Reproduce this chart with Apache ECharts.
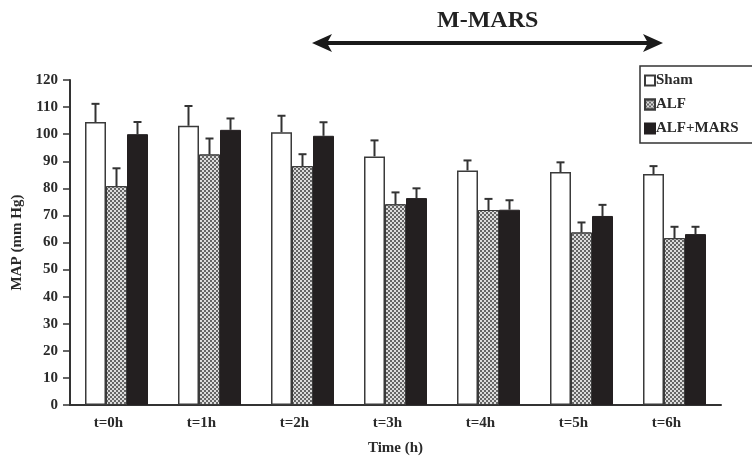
<!DOCTYPE html>
<html>
<head>
<meta charset="utf-8">
<script src="https://cdn.jsdelivr.net/npm/echarts@6/dist/echarts.min.js"></script>
<style>
  html, body { margin: 0; padding: 0; background: #fff; }
  #chart { width: 752px; height: 456px; }
</style>
</head>
<body>
<div id="chart"></div>
<script>
// values (MAP, mm Hg; mean and upward SD)
const categories = ['t=0h', 't=1h', 't=2h', 't=3h', 't=4h', 't=5h', 't=6h'];
const shamMean = [104.5, 103.1, 100.7, 91.8, 86.6, 86.0, 85.3];
const shamErr  = [6.7, 7.3, 6.1, 5.9, 3.7, 3.6, 2.9];
const alfMean  = [80.8, 92.5, 88.2, 74.1, 72.0, 63.7, 61.6];
const alfErr   = [6.6, 5.9, 4.4, 4.4, 4.1, 3.7, 4.2];
const marsMean = [100.0, 101.6, 99.4, 76.4, 72.1, 69.8, 63.1];
const marsErr  = [4.5, 4.2, 5.0, 3.6, 3.5, 4.1, 2.7];
const yTicks = { min: 0, max: 120, interval: 10 };

const FONT = '"Liberation Serif", "DejaVu Serif", serif';
const INK = '#2a2a2a';
const BAR_W = 21;

const chart = echarts.init(document.getElementById('chart'));

function errSeries(name, means, errs, offset) {
  return {
    type: 'custom',
    name: name + ' SD',
    z: 1,
    silent: true,
    data: means.map((m, i) => [i, m, errs[i]]),
    renderItem: (params, api) => {
      const i = api.value(0);
      const m = api.value(1);
      const e = api.value(2);
      const x = api.coord([i, m])[0] + offset;
      const yb = api.coord([i, m])[1];
      const yt = api.coord([i, m + e])[1];
      const st = { stroke: '#333', lineWidth: 2 };
      return {
        type: 'group',
        children: [
          { type: 'line', shape: { x1: x, y1: yb, x2: x, y2: yt }, style: st },
          { type: 'line', shape: { x1: x - 4, y1: yt, x2: x + 4, y2: yt }, style: st }
        ]
      };
    }
  };
}

const barBase = {
  type: 'bar',
  barWidth: BAR_W,
  barGap: '0%',
  z: 2
};

const option = {
  animation: false,
  backgroundColor: '#fff',
  grid: { left: 70, right: 31, top: 80, bottom: 51, outerBoundsMode: 'none' },
  legend: {
    data: ['Sham', 'ALF', 'ALF+MARS'],
    orient: 'vertical',
    left: 640,
    top: 66,
    padding: [7, 40, 7, 4],
    itemGap: 9,
    itemWidth: 10,
    itemHeight: 10,
    icon: 'rect',
    borderColor: '#333',
    borderWidth: 1.5,
    textStyle: { fontFamily: FONT, fontWeight: 'bold', fontSize: 15, color: INK, padding: [0, 0, 0, -4] }
  },
  xAxis: {
    type: 'category',
    data: categories,
    name: 'Time (h)',
    nameLocation: 'middle',
    nameGap: 36,
    nameTextStyle: { fontFamily: FONT, fontWeight: 'bold', fontSize: 15, color: INK },
    axisLine: { lineStyle: { color: '#333', width: 2 } },
    axisTick: { length: 5, lineStyle: { color: '#333', width: 1.5 } },
    axisLabel: { fontFamily: FONT, fontWeight: 'bold', fontSize: 15, color: INK, margin: 11, padding: [0, 16, 0, 0] }
  },
  yAxis: {
    type: 'value',
    min: yTicks.min,
    max: yTicks.max,
    interval: yTicks.interval,
    name: 'MAP (mm Hg)',
    nameLocation: 'middle',
    nameGap: 45,
    nameTextStyle: { fontFamily: FONT, fontWeight: 'bold', fontSize: 15, color: INK },
    splitLine: { show: false },
    axisLine: { show: true, lineStyle: { color: '#333', width: 2 } },
    axisTick: { show: true, length: 7, lineStyle: { color: '#333', width: 1.5 } },
    axisLabel: { fontFamily: FONT, fontWeight: 'bold', fontSize: 15, color: INK, margin: 12 }
  },
  graphic: [
    {
      type: 'text',
      left: 437,
      top: 9,
      style: { text: 'M-MARS', font: 'bold 24px ' + FONT, fill: '#222' }
    },
    {
      type: 'line',
      shape: { x1: 322, y1: 43, x2: 652, y2: 43 },
      style: { stroke: '#1a1a1a', lineWidth: 4 }
    },
    {
      type: 'polygon',
      shape: { points: [[312, 43], [332, 34], [327, 43], [332, 52]] },
      style: { fill: '#1a1a1a' }
    },
    {
      type: 'polygon',
      shape: { points: [[663, 43], [643, 34], [648, 43], [643, 52]] },
      style: { fill: '#1a1a1a' }
    }
  ],
  series: [
    Object.assign({}, barBase, {
      name: 'Sham',
      data: shamMean,
      itemStyle: { color: '#fff', borderColor: '#3a3a3a', borderWidth: 1.5 }
    }),
    Object.assign({}, barBase, {
      name: 'ALF',
      data: alfMean,
      itemStyle: {
        color: '#dcdcdc',
        borderColor: '#3a3a3a',
        borderWidth: 1,
        decal: {
          symbol: 'rect',
          symbolSize: 1,
          dashArrayX: [[2, 2], [0, 2, 2, 0]],
          dashArrayY: [2, 0],
          color: '#666'
        }
      }
    }),
    Object.assign({}, barBase, {
      name: 'ALF+MARS',
      data: marsMean,
      itemStyle: { color: '#231f20', borderColor: '#231f20', borderWidth: 1 }
    }),
    errSeries('Sham', shamMean, shamErr, -BAR_W),
    errSeries('ALF', alfMean, alfErr, 0),
    errSeries('ALF+MARS', marsMean, marsErr, BAR_W)
  ]
};

chart.setOption(option);
</script>
</body>
</html>
